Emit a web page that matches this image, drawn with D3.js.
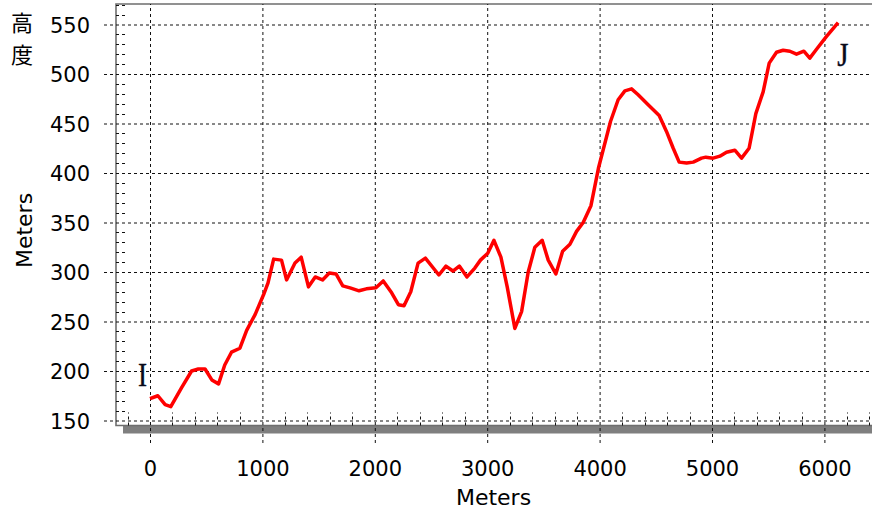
<!DOCTYPE html>
<html><head><meta charset="utf-8">
<script src="https://cdn.jsdelivr.net/npm/d3@7"></script>
<style>
html,body{margin:0;padding:0;background:#fff;overflow:hidden;}
svg{display:block;}
</style></head>
<body>
<svg id="c" width="872" height="512"></svg>
<script>
const distance = [0,70,135,185,280,370,430,490,550,610,665,725,800,860,935,1010,1050,1100,1170,1215,1290,1345,1410,1470,1535,1595,1655,1715,1780,1860,1925,2010,2075,2150,2210,2260,2320,2385,2450,2570,2633,2695,2752,2820,2890,2940,3005,3060,3122,3178,3246,3306,3365,3424,3489,3543,3611,3671,3736,3795,3854,3923,3990,4097,4165,4225,4284,4343,4432,4530,4595,4655,4708,4774,4833,4907,4945,5010,5070,5129,5203,5263,5330,5390,5455,5509,5574,5633,5693,5752,5817,5870,5930,6019,6122];
const elevation = [172,175,166,164,183,200,202,202,191,187,206,219,223,241,257,277,289,313,312,292,309,315,285,295,292,299,298,286,284,281,283,284,291,279,267,266,280,309,314,297,306,301,306,295,304,312,319,332,315,285,243,260,300,325,332,312,298,321,328,341,350,367,405,452,474,483,485,479,469,458,442,425,411,410,411,415,416,415,417,421,423,415,425,460,482,511,522,524,523,520,523,516,525,538,552];
const xTicks = [0,1000,2000,3000,4000,5000,6000];
const yTicks = [150,200,250,300,350,400,450,500,550];
const xMinor = d3.range(-200, 6401, 200).filter(v => v % 1000 !== 0);
const yMinor = d3.range(150, 571, 10).filter(v => v % 50 !== 0);
const yTitleCJK = ["高","度"];
const axisTitle = "Meters";
const startLabel = "I", endLabel = "J";

const svg = d3.select("#c");
const x = d3.scaleLinear().domain([0, 6000]).range([150, 824.4]);
const y = d3.scaleLinear().domain([150, 550]).range([420.5, 24.5]);

const frameL = 116, frameT = 4, frameB = 425.5, W = 872;
const dash = "3,3";
const gridColor = "#111";

// shadow bar
svg.append("rect").attr("x", 123).attr("y", frameB).attr("width", W).attr("height", 8).attr("fill", "#7f7f7f");

// frame
svg.append("path")
  .attr("d", `M${W+10},${frameT}H${frameL}V${frameB}H${W+10}`)
  .attr("fill", "none").attr("stroke", "#6e6e6e").attr("stroke-width", 1.6);

// Y axis grid + labels
const yAxis = d3.axisLeft(y).tickValues(yTicks).tickSize(-(W - 104)).tickPadding(14).tickFormat(d3.format("d"));
const gy = svg.append("g").attr("transform", "translate(104,0)").call(yAxis);
gy.select(".domain").remove();
gy.selectAll(".tick line").attr("stroke", gridColor).attr("stroke-dasharray", dash).attr("stroke-width", 1);
gy.selectAll(".tick text").attr("font-family", "DejaVu Sans, Verdana, sans-serif").attr("font-size", 21).attr("fill", "#000").attr("dy", "0.36em");

// X axis grid + labels
const xAxis = d3.axisBottom(x).tickValues(xTicks).tickSize(-(443 - frameT)).tickPadding(0).tickFormat(d3.format("d"));
const gx = svg.append("g").attr("transform", "translate(0,443)").call(xAxis);
gx.select(".domain").remove();
gx.selectAll(".tick line").attr("stroke", gridColor).attr("stroke-dasharray", dash).attr("stroke-width", 1);
gx.selectAll(".tick text").attr("font-family", "DejaVu Sans, Verdana, sans-serif").attr("font-size", 21).attr("fill", "#000").attr("y", 33).attr("dy", 0);

// minor ticks
svg.append("g").selectAll("line").data(yMinor).join("line")
  .attr("x1", frameL).attr("x2", frameL + 12)
  .attr("y1", d => Math.round(y(d)) + 0.5).attr("y2", d => Math.round(y(d)) + 0.5)
  .attr("stroke", gridColor).attr("stroke-dasharray", dash);
svg.append("g").selectAll("line").data(xMinor).join("line")
  .attr("x1", d => Math.round(x(d)) + 0.5).attr("x2", d => Math.round(x(d)) + 0.5)
  .attr("y1", frameB).attr("y2", frameB - 13)
  .attr("stroke", gridColor).attr("stroke-dasharray", dash);

// line
const pts = distance.map((d, i) => [d, elevation[i]]);
svg.append("path").datum(pts)
  .attr("d", d3.line().x(d => x(d[0])).y(d => y(d[1])))
  .attr("fill", "none").attr("stroke", "#ff0000").attr("stroke-width", 3.5).attr("stroke-linejoin", "round");

// labels I / J
svg.append("text").attr("x", 142.5).attr("y", 386).attr("text-anchor", "middle")
  .attr("font-family", "Liberation Serif, Times New Roman, serif").attr("font-size", 34).attr("fill", "#0a0a1a")
  .attr("stroke", "#0a0a1a").attr("stroke-width", 0.4)
  .attr("transform", "translate(142.5,0) scale(0.8,1) translate(-142.5,0)").text(startLabel);
svg.append("text").attr("x", 843).attr("y", 66).attr("text-anchor", "middle")
  .attr("font-family", "Liberation Serif, Times New Roman, serif").attr("font-size", 34).attr("fill", "#0a0a1a")
  .attr("stroke", "#0a0a1a").attr("stroke-width", 0.4)
  .attr("transform", "translate(843,0) scale(0.85,1) translate(-843,0)").text(endLabel);

// CJK title
svg.append("g").selectAll("text").data(yTitleCJK).join("text")
  .attr("x", 22).attr("y", (d, i) => 31 + i * 32).attr("text-anchor", "middle")
  .attr("font-family", "Noto Sans CJK JP, Noto Sans CJK SC, sans-serif").attr("font-size", 22).attr("fill", "#000")
  .text(d => d);

// axis titles
svg.append("text").attr("transform", "translate(32,230.5) rotate(-90)").attr("text-anchor", "middle")
  .attr("font-family", "DejaVu Sans, Verdana, sans-serif").attr("font-size", 22).attr("fill", "#000").text(axisTitle);
svg.append("text").attr("x", 493.5).attr("y", 505).attr("text-anchor", "middle")
  .attr("font-family", "DejaVu Sans, Verdana, sans-serif").attr("font-size", 22).attr("fill", "#000").text(axisTitle);
</script>
</body></html>
